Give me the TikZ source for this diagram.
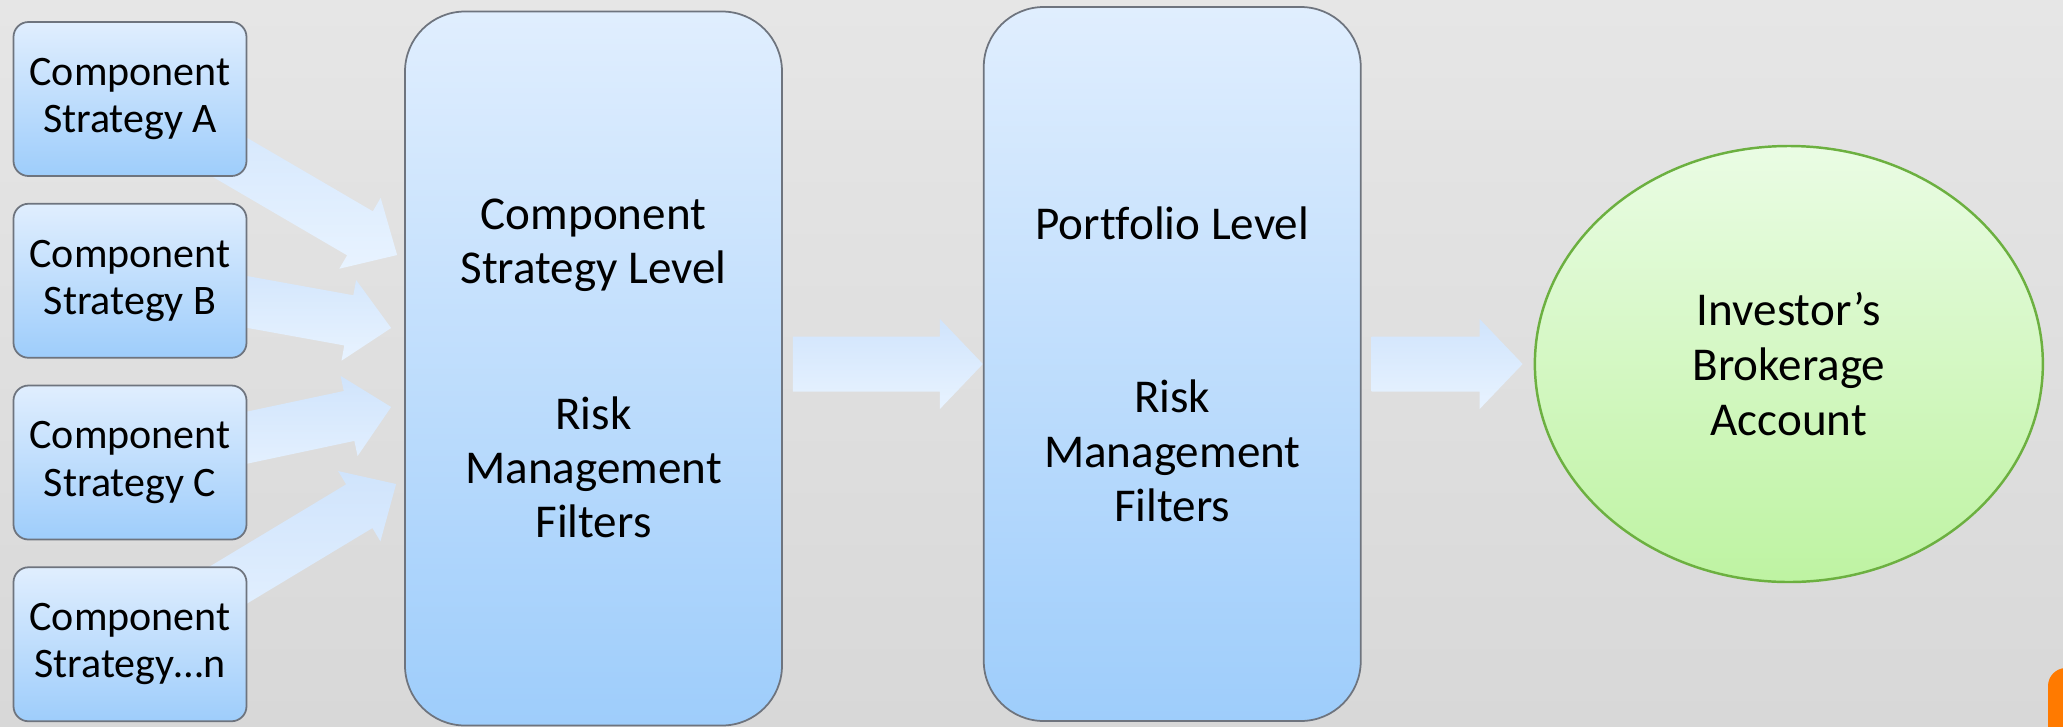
\documentclass[tikz,border=0pt]{standalone}
\usepackage{fontspec}
\setmainfont{Carlito}[Ligatures=NoCommon]
\usepackage{tikz}
\usetikzlibrary{positioning,calc,shapes.geometric}

\definecolor{bgtop}{RGB}{230,230,230}
\definecolor{bgbot}{RGB}{216,216,216}
\definecolor{boxtop}{RGB}{224,238,254}
\definecolor{boxbot}{RGB}{158,205,251}
\definecolor{boxline}{RGB}{110,116,126}
\definecolor{arrtop}{RGB}{208,228,252}
\definecolor{arrbot}{RGB}{232,243,255}
\definecolor{acctop}{RGB}{234,252,228}
\definecolor{accbot}{RGB}{190,243,162}
\definecolor{accline}{RGB}{108,176,64}
\definecolor{tabcol}{RGB}{255,122,0}

\pgfdeclarelayer{back}
\pgfdeclarelayer{mid}
\pgfsetlayers{back,mid,main}

% block arrow: from, to, half shaft width, half head width
\newcommand{\blockarrow}[4]{%
  \coordinate (hb) at ($(#2)!0.43cm!(#1)$);
  \path[fatarrow] ($(#1)!#3!90:(#2)$) -- ($(hb)!#3!90:(#2)$) -- ($(hb)!#4!90:(#2)$)
    -- (#2) -- ($(hb)!#4!-90:(#2)$) -- ($(hb)!#3!-90:(#2)$) -- ($(#1)!#3!-90:(#2)$) -- cycle;}

\begin{document}
\begin{tikzpicture}[
  stratbox/.style={draw=boxline, line width=0.5pt, rounded corners=0.15cm, top color=boxtop, bottom color=boxbot,
    minimum width=2.33cm, minimum height=1.54cm, align=center, font=\fontsize{11.95pt}{13.4pt}\selectfont},
  levelbox/.style={draw=boxline, line width=0.5pt, rounded corners=0.6cm, top color=boxtop, bottom color=boxbot,
    minimum width=3.77cm, minimum height=7.14cm, align=center, font=\fontsize{13.4pt}{15.4pt}\selectfont},
  account/.style={ellipse, draw=accline, line width=0.7pt, top color=acctop, bottom color=accbot,
    minimum width=5.08cm, minimum height=4.36cm, align=center, font=\fontsize{13.4pt}{15.6pt}\selectfont},
  fatarrow/.style={top color=arrtop, bottom color=arrbot},
  node distance=0.26cm
]
\useasboundingbox (0,0) rectangle (20.63,7.26);

\node[stratbox] (sA) at (1.30,6.27) {Component\\Strategy A};
\node[stratbox, below=of sA] (sB) {Component\\Strategy B};
\node[stratbox, below=of sB] (sC) {Component\\Strategy C};
\node[stratbox, below=of sC] (sN) {Component\\Strategy…n};

\node[levelbox] (lvl) at (5.935,3.575) {Component\\Strategy Level\\[26pt]Risk\\Management\\Filters};
\node[levelbox, right=2cm of lvl, yshift=0.045cm] (pfl) {Portfolio Level\\[34pt]Risk\\Management\\Filters};
\node[account, right=1.72cm of pfl] (acct) {Investor’s\\Brokerage\\Account};

\coordinate (tA) at ($(lvl.west)+(-0.07,1.135)$);
\coordinate (tB) at ($(lvl.west)+(-0.13,0.405)$);
\coordinate (tC) at ($(lvl.west)+(-0.13,-0.385)$);
\coordinate (tN) at ($(lvl.west)+(-0.08,-1.155)$);
\coordinate (oL) at ($(lvl.east|-pfl.west)+(0.1,0)$);
\coordinate (oP) at ($(pfl.east)+(0.1,0)$);
\coordinate (tP) at ($(acct.west)+(-0.11,0)$);

\begin{pgfonlayer}{mid}
  \blockarrow{sA}{tA}{0.255cm}{0.41cm}
  \blockarrow{sB}{tB}{0.255cm}{0.41cm}
  \blockarrow{sC}{tC}{0.255cm}{0.41cm}
  \blockarrow{sN}{tN}{0.255cm}{0.41cm}
  \blockarrow{oL}{pfl.west}{0.275cm}{0.45cm}
  \blockarrow{oP}{tP}{0.275cm}{0.45cm}
\end{pgfonlayer}

\begin{pgfonlayer}{back}
  \fill[top color=bgtop, bottom color=bgbot] (0,0) rectangle (20.63,7.26);
  \clip (0,0) rectangle (20.63,7.26);
  \fill[tabcol, rounded corners=0.18cm] (20.48,-0.5) rectangle (21.2,0.58);
\end{pgfonlayer}
\end{tikzpicture}
\end{document}
